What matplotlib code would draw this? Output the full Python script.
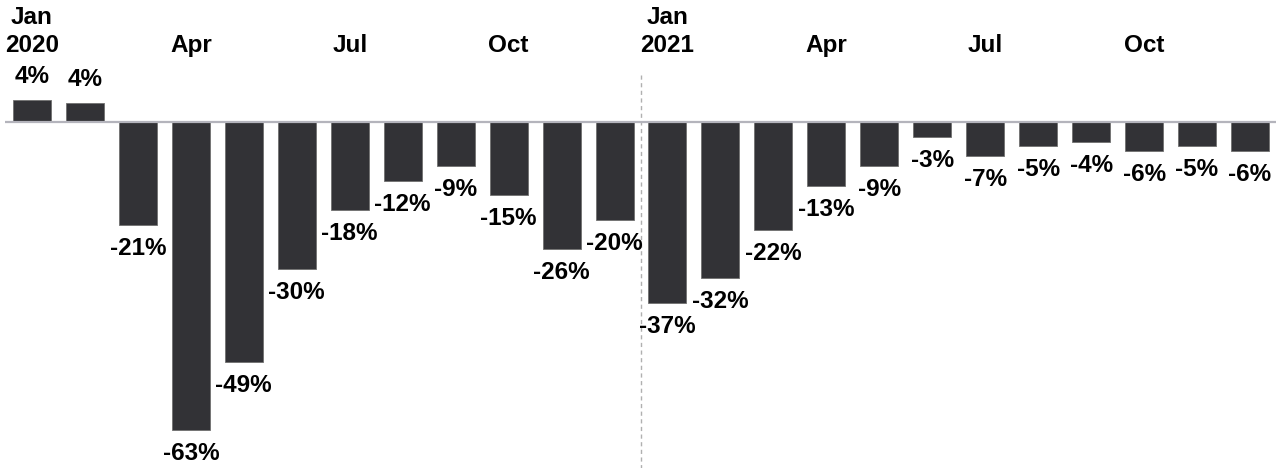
import matplotlib
matplotlib.use("Agg")
import matplotlib.pyplot as plt

months = ["Jan\n2020", "", "", "Apr", "", "", "Jul", "", "", "Oct", "", "",
          "Jan\n2021", "", "", "Apr", "", "", "Jul", "", "", "Oct", "", ""]
values = [4.4, 3.9, -21, -63, -49, -30, -18, -12, -9, -15, -26, -20,
          -37, -32, -22, -13, -9, -3, -7, -5, -4, -6, -5, -6]

plt.rcParams['font.family'] = ['Liberation Sans', 'DejaVu Sans']

W, H = 1276, 468
fig = plt.figure(figsize=(W / 100, H / 100), dpi=100)
ax = fig.add_axes([0, 0, 1, 1])
ax.set_axis_off()

x = list(range(len(values)))
step = 53.0
ax.set_xlim(-32 / step, 23 + (W - 1250) / step)
ppu = 4.89
ax.set_ylim(-(H - 122) / ppu, 122 / ppu)

ax.bar(x, values, width=38 / step, color='#323236', edgecolor='#707070',
       linewidth=0.6, zorder=2)

# zero line
ax.plot([-27 / step, 23.6], [0, 0], color='#b4b4bc', lw=1.6, zorder=3,
        solid_capstyle='butt')

# dashed year separator
ax.plot([11.5, 11.5], [(122 - 75) / ppu, -(H - 122) / ppu], color='#b0b0b0',
        lw=1.0, ls=(0, (3, 2.5)), zorder=1)

fs = 17.5
for xi, v in zip(x, values):
    if v >= 0:
        ax.annotate(f"{round(v):d}%", (xi, v), xytext=(0, 12),
                    textcoords='offset pixels', ha='center', va='bottom',
                    fontsize=fs, fontweight='bold', color='black')
    else:
        ax.annotate(f"{round(v):d}%", (xi, v), xytext=(0, -12),
                    textcoords='offset pixels', ha='center', va='top',
                    fontsize=fs, fontweight='bold', color='black')

for xi, m in zip(x, months):
    if m:
        ax.text(xi, (122 - 52) / ppu, m, ha='center', va='baseline',
                fontsize=fs, fontweight='bold', color='black',
                linespacing=1.3)

fig.savefig("out.png", dpi=100)
